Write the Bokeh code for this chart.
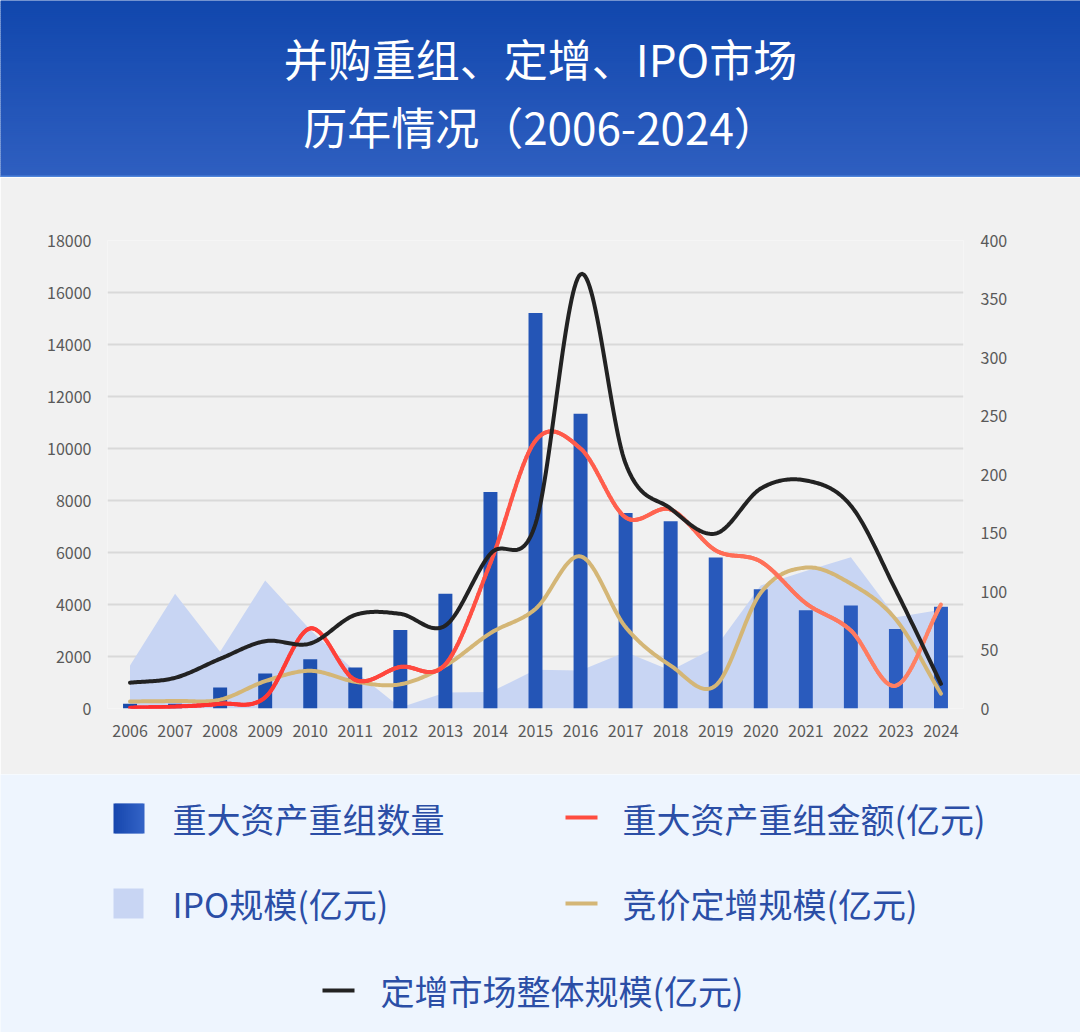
import numpy as np
from bokeh.plotting import figure
from bokeh.layouts import column
from bokeh.models import Range1d, LinearAxis, FixedTicker
from bokeh.embed import file_html
from bokeh.resources import INLINE
from bokeh.core.properties import value

# ---------------- data ----------------
years = list(range(2006, 2025))
year_labels = [str(y) for y in years]
# 重大资产重组数量 (right axis)
deal_count = [4, 4, 18, 30, 42, 35, 67, 98, 185, 338, 252, 167, 160, 129, 102, 84, 88, 68, 87]
# 重大资产重组金额(亿元)
deal_amount = [30, 70, 180, 430, 3080, 1100, 1600, 1700, 5600, 10300, 10000, 7350, 7650, 6080, 5650, 4050, 3000, 880, 4000]
# IPO规模(亿元)
ipo_scale = [1650, 4410, 2180, 4920, 3030, 1420, 40, 620, 630, 1490, 1460, 2170, 1460, 2360, 4730, 5290, 5820, 3510, 3800]
# 竞价定增规模(亿元)
bid_placement = [270, 290, 340, 1050, 1450, 1030, 930, 1650, 2900, 3830, 5850, 3130, 1650, 885, 4450, 5420, 4800, 3420, 570]
# 定增市场整体规模(亿元)
placement_total = [990, 1180, 1910, 2590, 2500, 3600, 3640, 3190, 5950, 7100, 16700, 9420, 7690, 6730, 8460, 8770, 7800, 4540, 950]

left_ticks = list(range(0, 18001, 2000))
right_ticks = list(range(0, 401, 50))

title1 = "并购重组、定增、IPO市场"
title2 = "历年情况（2006-2024）"
legend_labels = ["重大资产重组数量", "重大资产重组金额(亿元)", "IPO规模(亿元)",
                 "竞价定增规模(亿元)", "定增市场整体规模(亿元)"]

FONT = "Noto Sans CJK SC"
W = 1080


def hex2rgb(h):
    h = h.lstrip("#")
    return np.array([int(h[i:i + 2], 16) for i in (0, 2, 4)], float)


def mix(c1, c2, t):
    a, b = hex2rgb(c1), hex2rgb(c2)
    c = a + (b - a) * t
    return "#%02x%02x%02x" % tuple(int(round(v)) for v in c)


def smooth(xs, ys, n=30):
    """Cardinal (Catmull-Rom) spline through the data points, for drawing."""
    xs = np.asarray(xs, float)
    ys = np.asarray(ys, float)
    k = len(ys)
    m = np.zeros(k)
    m[1:-1] = (ys[2:] - ys[:-2]) / 2.0
    m[0] = ys[1] - ys[0]
    m[-1] = ys[-1] - ys[-2]
    ox, oy = [], []
    for i in range(k - 1):
        t = np.linspace(0, 1, n, endpoint=(i == k - 2))
        h00 = 2 * t**3 - 3 * t**2 + 1
        h10 = t**3 - 2 * t**2 + t
        h01 = -2 * t**3 + 3 * t**2
        h11 = t**3 - t**2
        oy.extend(h00 * ys[i] + h10 * m[i] + h01 * ys[i + 1] + h11 * m[i + 1])
        ox.extend(xs[i] + t * (xs[i + 1] - xs[i]))
    return np.array(ox), np.array(oy)


# ---------------- banner ----------------
BH = 177
banner = figure(width=W, height=BH, x_range=Range1d(0, W), y_range=Range1d(BH, 0),
                x_axis_location=None, y_axis_location=None, toolbar_location=None,
                output_backend="svg", min_border=0, outline_line_color=None,
                background_fill_color="#2a5bbb", border_fill_color="#2a5bbb", frame_align=False)
banner.grid.visible = False
steps = np.arange(0, BH - 2, 2)
banner.quad(left=0, right=W, top=list(steps), bottom=list(steps + 2.6),
            fill_color=[mix("#1147ad", "#2f5fc0", s / (BH - 2)) for s in steps], line_color=None)
banner.quad(left=0, right=W, top=BH - 2, bottom=BH, fill_color="#4f84d9", line_color=None)
banner.text(x=[540, 540], y=[57, 125], text=[title1, title2], text_font=value(FONT),
            text_font_size="44px", text_color="white", text_align="center", text_baseline="middle")

# ---------------- chart ----------------
CH = 597
p = figure(width=W, height=CH, x_range=Range1d(2005.5, 2024.5), y_range=Range1d(0, 18000),
           toolbar_location=None, output_backend="svg", frame_align=False,
           min_border_left=107, min_border_right=117, min_border_top=63, min_border_bottom=66,
           background_fill_color="#f1f1f1", border_fill_color="#f1f1f1", outline_line_color=None)
p.extra_y_ranges = {"cnt": Range1d(0, 400)}

p.xgrid.visible = False
p.ygrid.ticker = FixedTicker(ticks=left_ticks)
p.ygrid.grid_line_color = "#d9d9d9"
p.ygrid.grid_line_width = 2


def style_axis(ax, standoff):
    ax.axis_line_color = None
    ax.major_tick_line_color = None
    ax.minor_tick_line_color = None
    ax.major_tick_out = 0
    ax.major_tick_in = 0
    ax.minor_tick_out = 0
    ax.major_label_text_font = FONT
    ax.major_label_text_font_size = "16px"
    ax.major_label_text_color = "#595959"
    ax.major_label_standoff = standoff


p.yaxis.ticker = FixedTicker(ticks=left_ticks)
style_axis(p.yaxis[0], 16)
p.xaxis.ticker = FixedTicker(ticks=years)
p.xaxis.major_label_overrides = {y: l for y, l in zip(years, year_labels)}
style_axis(p.xaxis[0], 16)

rax = LinearAxis(y_range_name="cnt", ticker=FixedTicker(ticks=right_ticks))
style_axis(rax, 17)
p.add_layout(rax, "right")

# IPO area
p.varea(x=years, y1=[0] * len(years), y2=ipo_scale, fill_color="#c8d5f3")
# bars
bar_cols = [mix("#1a4cab", "#2d5ec1", i / (len(years) - 1)) for i in range(len(years))]
p.vbar(x=years, top=deal_count, bottom=0, width=0.31, y_range_name="cnt",
       fill_color=bar_cols, line_color=None)

# tan line
tx, ty = smooth(years, bid_placement)
p.line(tx, ty, line_color="#d4b676", line_width=4, line_cap="round", line_join="round")
# red gradient line
rx, ry = smooth(years, deal_amount)
xs_seg = [[rx[i], rx[i + 1]] for i in range(len(rx) - 1)]
ys_seg = [[ry[i], ry[i + 1]] for i in range(len(ry) - 1)]
seg_cols = [mix("#ff2b2b", "#ff8466", (rx[i] - 2006) / 18.0) for i in range(len(rx) - 1)]
p.multi_line(xs=xs_seg, ys=ys_seg, line_color=seg_cols, line_width=4, line_cap="round")
# black line
bx, by = smooth(years, placement_total)
p.line(bx, by, line_color="#222222", line_width=4, line_cap="round", line_join="round")

# ---------------- legend ----------------
LH = 258
lg = figure(width=W, height=LH, x_range=Range1d(0, W), y_range=Range1d(774 + LH, 774),
            x_axis_location=None, y_axis_location=None, toolbar_location=None,
            output_backend="svg", min_border=0, outline_line_color=None, frame_align=False,
            background_fill_color="#eef5fe", border_fill_color="#eef5fe")
lg.grid.visible = False
sx = np.arange(113, 143, 2)
lg.quad(left=list(sx), right=list(sx + 3), top=803, bottom=833,
        fill_color=[mix("#1747ae", "#3464c7", (s - 113) / 30) for s in sx], line_color=None)
lg.quad(left=113, right=143, top=888, bottom=918, fill_color="#c8d5f3", line_color=None)
lg.segment(x0=[565, 565, 322], y0=[817, 903, 990], x1=[597, 597, 354], y1=[817, 903, 990],
           line_color=["#ff4d40", "#d4b676", "#222222"], line_width=4)
lg.text(x=[172, 622, 172, 622, 380], y=[818, 818, 903, 903, 990], text=legend_labels,
        text_font=value(FONT), text_font_size="34px", text_color="#2b4ea6",
        text_align="left", text_baseline="middle")

layout = column(banner, p, lg, spacing=0)
open("out.html", "w").write(file_html(layout, INLINE))
